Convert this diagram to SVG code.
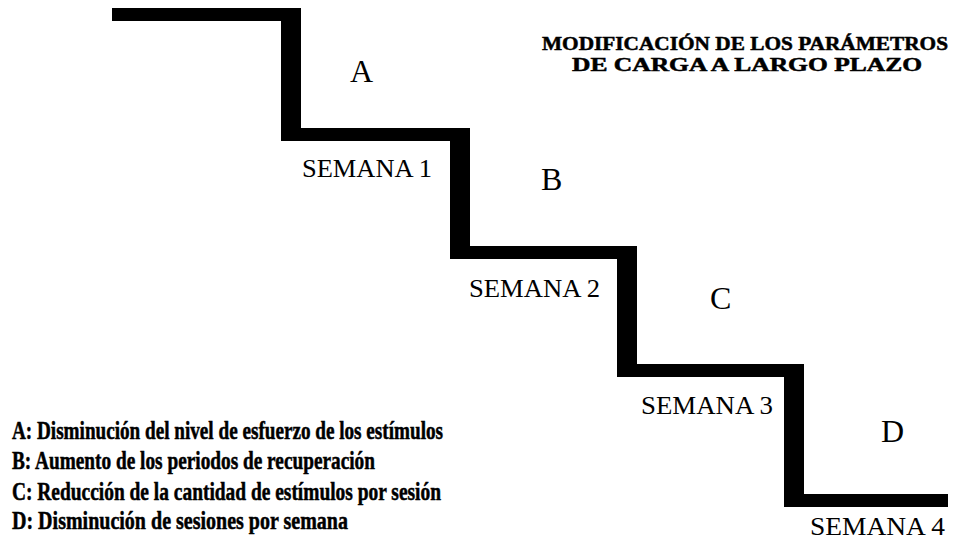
<svg xmlns="http://www.w3.org/2000/svg" width="962" height="546" viewBox="0 0 962 546">
<style>
.lbl{font-family:"Liberation Serif","Times New Roman",serif;fill:#000}
.big{font-size:32px}
.wk{font-size:25px}
.ttl{font-family:"Liberation Serif","Times New Roman",serif;font-weight:bold;font-size:19px;fill:#000;stroke:#000;stroke-width:0.5}
.leg{font-family:"Liberation Serif","Times New Roman",serif;font-weight:bold;font-size:24.5px;fill:#000;stroke:#000;stroke-width:0.5}
</style>
<rect width="962" height="546" fill="#fff"/>
<g id="connectors">
<polygon id="stairs" fill="#000" points="112,8 301,8 301,128 470,128 470,246 637,246 637,364 804,364 804,494 948,494 948,507 784,507 784,377 617,377 617,259 450,259 450,141 281,141 281,21 112,21"/>
</g>
<g id="title">
<text class="ttl" x="745" y="50" text-anchor="middle" textLength="406" lengthAdjust="spacingAndGlyphs">MODIFICACIÓN DE LOS PARÁMETROS</text>
<text class="ttl" x="747" y="71" text-anchor="middle" textLength="350" lengthAdjust="spacingAndGlyphs">DE CARGA A LARGO PLAZO</text>
</g>
<g id="step-A"><text class="lbl big" x="350" y="82">A</text></g>
<g id="step-B"><text class="lbl big" x="541" y="190">B</text></g>
<g id="step-C"><text class="lbl big" x="710" y="309">C</text></g>
<g id="step-D"><text class="lbl big" x="881" y="442">D</text></g>
<g id="week-1"><text class="lbl wk" x="302" y="177" textLength="130" lengthAdjust="spacingAndGlyphs">SEMANA 1</text></g>
<g id="week-2"><text class="lbl wk" x="469" y="297" textLength="131" lengthAdjust="spacingAndGlyphs">SEMANA 2</text></g>
<g id="week-3"><text class="lbl wk" x="641" y="414" textLength="132" lengthAdjust="spacingAndGlyphs">SEMANA 3</text></g>
<g id="week-4"><text class="lbl wk" x="810" y="535" textLength="135" lengthAdjust="spacingAndGlyphs">SEMANA 4</text></g>
<g id="legend">
<text class="leg" x="12" y="439" textLength="431" lengthAdjust="spacingAndGlyphs">A: Disminución del nivel de esfuerzo de los estímulos</text>
<text class="leg" x="12" y="469" textLength="363" lengthAdjust="spacingAndGlyphs">B: Aumento de los periodos de recuperación</text>
<text class="leg" x="12" y="500" textLength="429" lengthAdjust="spacingAndGlyphs">C: Reducción de la cantidad de estímulos por sesión</text>
<text class="leg" x="12" y="529" textLength="336" lengthAdjust="spacingAndGlyphs">D: Disminución de sesiones por semana</text>
</g>
</svg>
